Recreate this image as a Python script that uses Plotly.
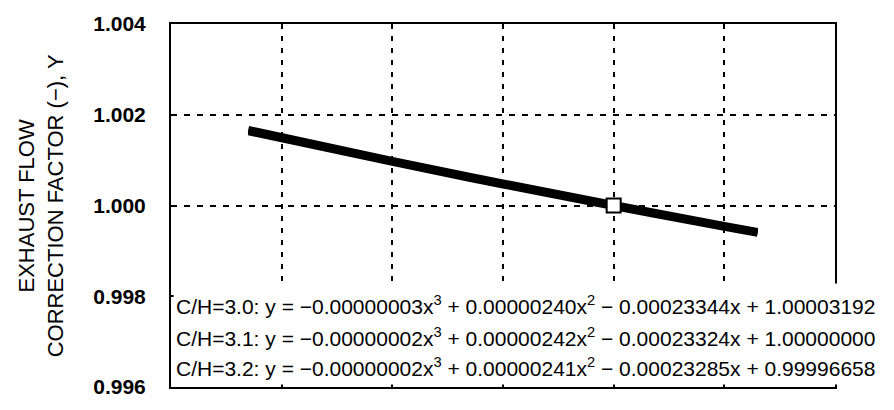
import plotly.graph_objects as go

# x positions (axis units, no tick labels shown) and readings of the three curves
x_pts = [-6.6, -4.0, -2.0, 0.0, 2.0, 2.6]
y_ch30 = [1.001686, 1.001006, 1.000508, 1.000032, 0.999574, 0.999441]
y_ch31 = [1.001651, 1.000973, 1.000476, 1.000000, 0.999543, 0.999410]
y_ch32 = [1.001614, 1.000938, 1.000442, 0.999967, 0.999510, 0.999377]

ref_x = [0.0]
ref_y = [1.000]

y_ticks = [0.996, 0.998, 1.000, 1.002, 1.004]
y_ticklabels = ["0.996", "0.998", "1.000", "1.002", "1.004"]

equations = [
    "C/H=3.0: y = −0.00000003x<sup>3</sup> + 0.00000240x<sup>2</sup> − 0.00023344x + 1.00003192",
    "C/H=3.1: y = −0.00000002x<sup>3</sup> + 0.00000242x<sup>2</sup> − 0.00023324x + 1.00000000",
    "C/H=3.2: y = −0.00000002x<sup>3</sup> + 0.00000241x<sup>2</sup> − 0.00023285x + 0.99996658",
]
eq_y = [0.2255, 0.1386, 0.0543]

FONT = "Liberation Sans, Arial, sans-serif"

fig = go.Figure()
for ys in (y_ch30, y_ch31, y_ch32):
    fig.add_trace(go.Scatter(x=x_pts, y=ys, mode="lines",
                             line=dict(color="black", width=6, shape="spline"),
                             showlegend=False, hoverinfo="skip"))
fig.add_trace(go.Scatter(x=ref_x, y=ref_y, mode="markers",
                         marker=dict(symbol="square", size=14, color="white",
                                     line=dict(color="black", width=2)),
                         showlegend=False, hoverinfo="skip"))

fig.update_xaxes(range=[-8, 4], dtick=2, tick0=0, showticklabels=False,
                 showgrid=True, gridcolor="black", gridwidth=2, griddash="5px,7px",
                 zeroline=False, showline=True, linecolor="black", linewidth=2, mirror=True,
                 ticks="")
fig.update_yaxes(range=[0.996, 1.004], tickvals=y_ticks, ticktext=y_ticklabels,
                 showgrid=True, gridcolor="black", gridwidth=2, griddash="6px,7px",
                 zeroline=False, showline=True, linecolor="black", linewidth=2, mirror=True,
                 ticks="", ticklabelstandoff=19,
                 tickfont=dict(family=FONT, size=21, color="black", weight="bold"))

# white box behind equations
fig.add_shape(type="rect", xref="paper", yref="paper", x0=0.004, x1=1.01, y0=0.007, y1=0.285,
              fillcolor="white", line=dict(width=0), layer="above")

for t, yy in zip(equations, eq_y):
    fig.add_annotation(text=t, xref="paper", yref="paper", x=0, y=yy, xanchor="left",
                       yanchor="middle", xshift=3, showarrow=False, align="left",
                       font=dict(family=FONT, size=21, color="black"))

fig.add_annotation(text="EXHAUST FLOW<br>CORRECTION FACTOR (−), Y", xref="paper", yref="paper",
                   x=-0.196, y=0.5, xanchor="center", yanchor="middle", textangle=-90,
                   showarrow=False, font=dict(family=FONT, size=22, color="black"))

fig.update_layout(width=894, height=410, margin=dict(l=171, r=59, t=20, b=22),
                  paper_bgcolor="white", plot_bgcolor="white")

fig.write_html("out.html")
